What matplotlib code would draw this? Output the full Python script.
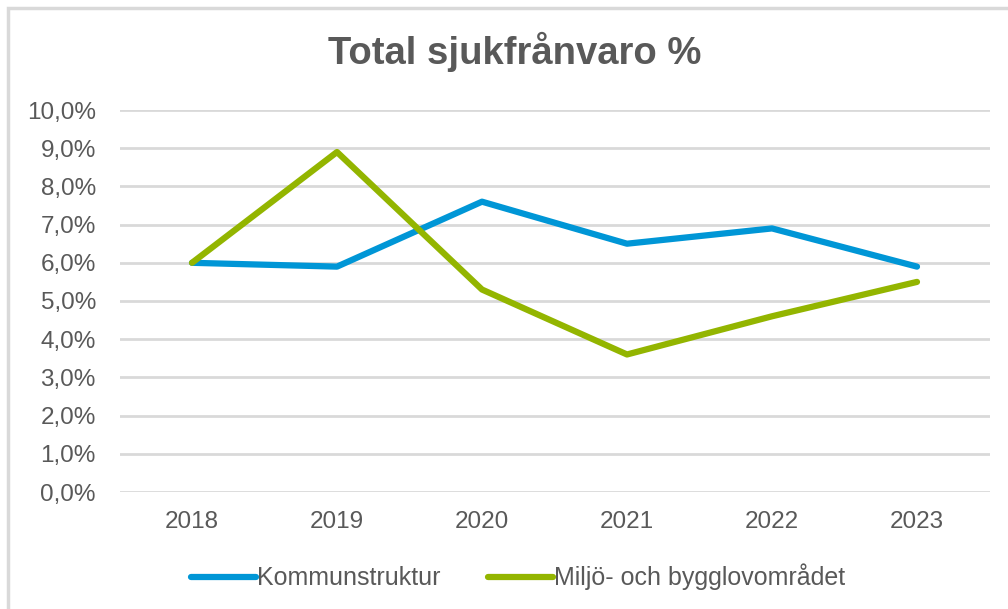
import matplotlib.pyplot as plt
from matplotlib.patches import Rectangle
from matplotlib.ticker import FuncFormatter

plt.rcParams['font.family'] = ['Liberation Sans', 'DejaVu Sans']

years = ['2018', '2019', '2020', '2021', '2022', '2023']
kommunstruktur = [6.0, 5.9, 7.6, 6.5, 6.9, 5.9]
miljo_bygglov = [6.0, 8.9, 5.3, 3.6, 4.6, 5.5]

text_color = '#595959'
blue = '#0096d6'
green = '#93b500'

fig = plt.figure(figsize=(10.08, 6.09), dpi=100)
# light frame around the chart area
fig.patches.append(Rectangle((8 / 1008, -0.05), 1.2, 1 - 8 / 609 + 0.05,
                             transform=fig.transFigure, fill=False,
                             edgecolor='#d9d9d9', linewidth=2.5))

ax = fig.add_axes([119.5 / 1008, 1 - 492 / 609, 870 / 1008, 382 / 609])
x = range(len(years))
ax.plot(x, kommunstruktur, color=blue, lw=4.5, solid_capstyle='round',
        solid_joinstyle='round', label='Kommunstruktur')
ax.plot(x, miljo_bygglov, color=green, lw=4.5, solid_capstyle='round',
        solid_joinstyle='round', label='Miljö- och bygglovområdet')

ax.set_xlim(-0.5, len(years) - 0.5)
ax.set_ylim(0, 10)
ax.set_yticks(range(0, 11))
ax.yaxis.set_major_formatter(FuncFormatter(lambda v, p: f'{v:.1f}%'.replace('.', ',')))
ax.set_xticks(list(x))
ax.set_xticklabels(years)
ax.grid(axis='y', color='#d9d9d9', lw=2)
ax.set_axisbelow(True)
for s in ax.spines.values():
    s.set_visible(False)
ax.tick_params(length=0, labelsize=17.5, colors=text_color)
ax.tick_params(axis='x', pad=14)
ax.tick_params(axis='y', pad=17)

fig.text(0.511, 1 - 52 / 609, 'Total sjukfrånvaro %', ha='center', va='center',
         fontsize=27.5, fontweight='bold', color=text_color)

leg = fig.legend(loc='center', bbox_to_anchor=(0.514, 1 - 577 / 609), ncol=2,
                 frameon=False, fontsize=18, handlelength=2.6, handletextpad=0.05,
                 columnspacing=1.9)
for t in leg.get_texts():
    t.set_color(text_color)

fig.savefig('out.png', dpi=100)
